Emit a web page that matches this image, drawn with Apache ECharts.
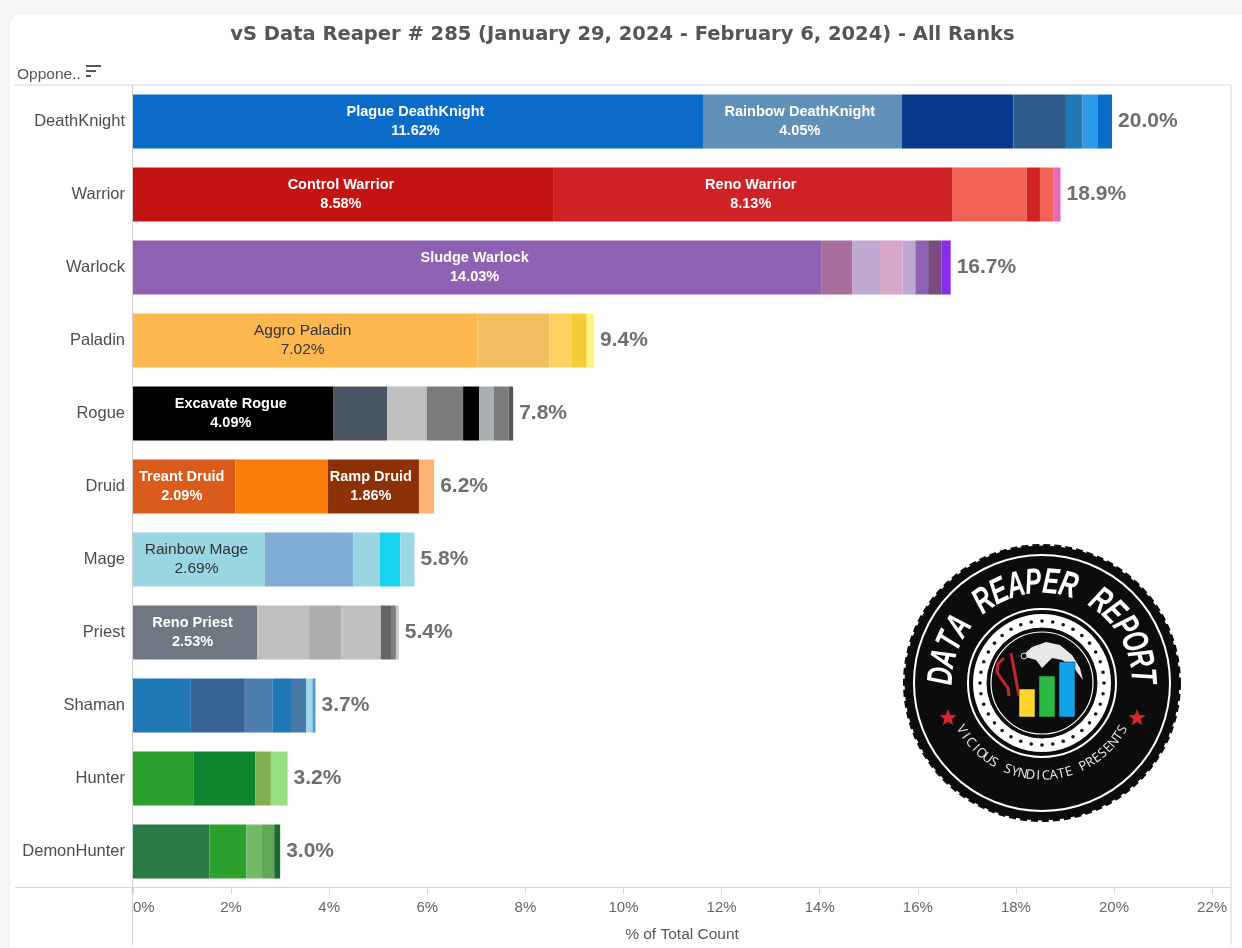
<!DOCTYPE html>
<html>
<head>
<meta charset="utf-8">
<title>vS Data Reaper # 285</title>
<script src="https://cdn.jsdelivr.net/npm/echarts@6/dist/echarts.min.js"></script>
<style>
html, body { margin: 0; padding: 0; background: #f7f7f7; overflow: hidden; }
#card { position: absolute; left: 10px; top: 14px; width: 1260px; height: 960px; background: #fff; border-radius: 12px; box-shadow: 0 0 8px rgba(0,0,0,0.04); }
#chart { position: absolute; left: 0; top: 0; width: 1242px; height: 948px; }
</style>
</head>
<body>
<div id="card"></div>
<div id="chart"></div>
<script>
var classes = ["DeathKnight", "Warrior", "Warlock", "Paladin", "Rogue", "Druid", "Mage", "Priest", "Shaman", "Hunter", "DemonHunter"];
var totalLabels = ["20.0%", "18.9%", "16.7%", "9.4%", "7.8%", "6.2%", "5.8%", "5.4%", "3.7%", "3.2%", "3.0%"];

var deathKnightShares = [11.62, 4.05, 2.28, 1.07, 0.34, 0.30, 0.30];
var warriorShares = [8.58, 8.13, 1.51, 0.27, 0.27, 0.15];
var warlockShares = [14.03, 0.63, 0.57, 0.46, 0.26, 0.26, 0.27, 0.19];
var paladinShares = [7.02, 1.47, 0.46, 0.30, 0.15];
var rogueShares = [4.09, 1.09, 0.81, 0.74, 0.33, 0.30, 0.30, 0.09];
var druidShares = [2.09, 1.88, 1.86, 0.31];
var mageShares = [2.69, 1.80, 0.54, 0.42, 0.29];
var priestShares = [2.53, 1.06, 0.66, 0.80, 0.21, 0.10, 0.06];
var shamanShares = [1.18, 1.10, 0.56, 0.40, 0.29, 0.13, 0.06];
var hunterShares = [1.23, 1.26, 0.32, 0.34];
var demonHunterShares = [1.56, 0.75, 0.32, 0.25, 0.12];
var shares = [deathKnightShares, warriorShares, warlockShares, paladinShares, rogueShares, druidShares, mageShares, priestShares, shamanShares, hunterShares, demonHunterShares];

var deathKnightColors = ["#0b6bc9", "#6090b8", "#07398c", "#2d5a88", "#1f77b4", "#2d9ae8", "#0a6ccb"];
var warriorColors = ["#c41313", "#d02226", "#f26355", "#d12226", "#f26355", "#e36ab8"];
var warlockColors = ["#8f61b3", "#a66e9b", "#bfa9d0", "#d8a6c8", "#bfa9d0", "#8f61b3", "#7a4b7e", "#8a2be8"];
var paladinColors = ["#fdb850", "#f2c060", "#fdd25e", "#f5ce35", "#fdf57d"];
var rogueColors = ["#000000", "#4a5563", "#bfbfbf", "#7b7b7b", "#000000", "#a9afb0", "#7b7b7b", "#555555"];
var druidColors = ["#db5b1c", "#fa7c0b", "#8c3005", "#fdb473"];
var mageColors = ["#9ad6e2", "#7fabd4", "#9ad6e2", "#17d5ec", "#9ad6e2"];
var priestColors = ["#6e7883", "#c0c0c0", "#adadad", "#c0c0c0", "#646464", "#7f7f7f", "#c8c8c8"];
var shamanColors = ["#1f77b4", "#396594", "#4c7fae", "#1f77b4", "#4878a8", "#9bd6e6", "#4e9ccc"];
var hunterColors = ["#2ca02c", "#10852f", "#82b04f", "#98df84"];
var demonHunterColors = ["#2a7a45", "#2ca02c", "#74b966", "#5fa858", "#1a6b2f"];
var colors = [deathKnightColors, warriorColors, warlockColors, paladinColors, rogueColors, druidColors, mageColors, priestColors, shamanColors, hunterColors, demonHunterColors];

// only the big decks got a name inside the bar
var deckNames = [
    ["Plague DeathKnight", "Rainbow DeathKnight"],
    ["Control Warrior", "Reno Warrior"],
    ["Sludge Warlock"],
    ["Aggro Paladin"],
    ["Excavate Rogue"],
    ["Treant Druid", "", "Ramp Druid"],
    ["Rainbow Mage"],
    ["Reno Priest"],
    [], [], []
];
var darkLabelClasses = ["Paladin", "Mage"];

var series = [];
for (var s = 0; s < 8; s++) {
    var rows = [];
    for (var c = 0; c < classes.length; c++) {
        var deckName = deckNames[c][s];
        var darkLabel = darkLabelClasses.indexOf(classes[c]) >= 0;
        rows.push({
            value: shares[c][s] === undefined ? 0 : shares[c][s],
            itemStyle: { color: colors[c][s] || "#fff" },
            label: {
                show: !!deckName,
                position: "inside",
                offset: [-2.5, 0],
                color: darkLabel ? "#333" : "#fff",
                fontFamily: "Liberation Sans",
                fontSize: darkLabel ? 15.5 : 14.5,
                fontWeight: darkLabel ? "normal" : "bold",
                lineHeight: 19,
                formatter: deckName ? deckName + "\n" + shares[c][s].toFixed(2) + "%" : ""
            }
        });
    }
    series.push({ type: "bar", stack: "share", barWidth: 54, data: rows, silent: true });
}

var ends = [];
for (var i = 0; i < classes.length; i++) {
    var sum = 0;
    for (var j = 0; j < shares[i].length; j++) {
        sum += shares[i][j];
    }
    ends.push([sum, classes[i], totalLabels[i]]);
}
series.push({
    type: "scatter",
    symbolSize: 0,
    silent: true,
    data: ends,
    label: {
        show: true,
        position: "right",
        distance: 6,
        color: "#4a4a4a",
        fontFamily: "Liberation Sans",
        fontSize: 21,
        fontWeight: "bold",
        formatter: function(p) { return p.data[2]; }
    }
});

// logo is only decoration, so it goes in as plain graphic elements
var logoX = 1042;
var logoY = 683;

function arcLetters(text, r, from, to, font, fill, bottom, squeeze) {
    var out = [];
    for (var k = 0; k < text.length; k++) {
        var deg = from + (to - from) * k / (text.length - 1);
        var rad = deg * Math.PI / 180;
        out.push({
            type: "text",
            x: logoX + r * Math.sin(rad),
            y: logoY - r * Math.cos(rad),
            rotation: bottom ? -(rad - Math.PI) : -rad,
            scaleX: squeeze,
            z: 12,
            style: { text: text[k], x: 0, y: 0, fill: fill, font: font, align: "center", verticalAlign: "middle" }
        });
    }
    return out;
}

function logoCircle(r, fill, stroke, width, dash) {
    return {
        type: "circle", z: 11,
        shape: { cx: logoX, cy: logoY, r: r },
        style: { fill: fill, stroke: stroke, lineWidth: width || 0, lineDash: dash }
    };
}

function logoRect(x, y, w, h, fill) {
    return { type: "rect", z: 13, shape: { x: x, y: y, width: w, height: h }, style: { fill: fill, stroke: "#111", lineWidth: 0.5 } };
}

function logoStar(x, y) {
    var pts = [];
    for (var n = 0; n < 10; n++) {
        var a = n * Math.PI / 5;
        var rr = n % 2 ? 3.8 : 9;
        pts.push([x + rr * Math.sin(a), y - rr * Math.cos(a)]);
    }
    return { type: "polygon", z: 13, shape: { points: pts }, style: { fill: "#d9262c" } };
}

var logo = [
    logoCircle(137.5, "#0c0c0c", "#0c0c0c", 3, [7, 4]),
    logoCircle(128, "none", "#fff", 2),
    logoCircle(74, "#0c0c0c", "#fff", 2),
    logoCircle(69, "#fff"),
    logoCircle(55, "#0c0c0c", "#0c0c0c", 1),
    logoCircle(51, "#0c0c0c", "#fff", 1.2),
    {
        type: "polygon", z: 12,
        shape: { points: [[1022, 656], [1032, 647], [1046, 642], [1060, 645], [1072, 655], [1080, 668], [1083, 680], [1074, 668], [1062, 660], [1052, 658], [1042, 668], [1036, 660]] },
        style: { fill: "#e8e8e8" }
    },
    { type: "circle", z: 13, shape: { cx: 1024, cy: 656, r: 3 }, style: { fill: "#111", stroke: "#ddd", lineWidth: 1 } },
    {
        type: "polyline", z: 12,
        shape: { points: [[1004, 658], [998, 664], [997, 672], [1002, 680], [1008, 688], [1009, 696]] },
        style: { fill: "none", stroke: "#c6262b", lineWidth: 3 }
    },
    { type: "line", z: 12, shape: { x1: 1011, y1: 653, x2: 1019, y2: 696 }, style: { stroke: "#c6262b", lineWidth: 3 } },
    logoRect(1019, 689, 16, 28, "#fdd52b"),
    logoRect(1039, 676, 16, 41, "#2bb944"),
    logoRect(1059, 662, 16, 55, "#12a0e6"),
    logoStar(948, 718),
    logoStar(1137, 718)
];
for (var d = 0; d < 36; d++) {
    var da = d * Math.PI / 18;
    logo.push({ type: "circle", z: 12, shape: { cx: logoX + 62 * Math.sin(da), cy: logoY - 62 * Math.cos(da), r: 1.8 }, style: { fill: "#111" } });
}
logo = logo.concat(arcLetters("DATA REAPER REPORT", 100, -86, 86, "italic bold 36px 'Liberation Sans'", "#fff", false, 0.68));
logo = logo.concat(arcLetters("VICIOUS SYNDICATE PRESENTS", 93, 240, 120, "13px 'Open Sans'", "#eee", true, 1));

var frame = [
    { type: "line", shape: { x1: 14, y1: 85, x2: 1231, y2: 85 }, style: { stroke: "#d6d6d6", lineWidth: 1 } },
    { type: "line", shape: { x1: 1231, y1: 85, x2: 1231, y2: 945 }, style: { stroke: "#d6d6d6", lineWidth: 1 } },
    { type: "line", shape: { x1: 15, y1: 887.5, x2: 1231, y2: 887.5 }, style: { stroke: "#d6d6d6", lineWidth: 1 } },
    { type: "line", shape: { x1: 132.5, y1: 85, x2: 132.5, y2: 945 }, style: { stroke: "#d0d0d0", lineWidth: 1 } },
    { type: "text", x: 17, y: 75, style: { text: "Oppone..", fill: "#555", font: "15.5px 'Liberation Sans'", verticalAlign: "middle" } },
    { type: "rect", shape: { x: 86, y: 65, width: 15, height: 2 }, style: { fill: "#555" } },
    { type: "rect", shape: { x: 86, y: 70, width: 10, height: 2 }, style: { fill: "#555" } },
    { type: "rect", shape: { x: 86, y: 75, width: 5, height: 2 }, style: { fill: "#555" } }
];

var chart = echarts.init(document.getElementById("chart"), null, { renderer: "canvas" });
chart.setOption({
    animation: false,
    backgroundColor: "transparent",
    title: {
        text: "vS Data Reaper # 285 (January 29, 2024 - February 6, 2024) - All Ranks",
        left: 617.5,
        top: 20,
        textAlign: "center",
        textStyle: { color: "#555", fontFamily: "DejaVu Sans", fontSize: 19.5, fontWeight: "bold" }
    },
    grid: { left: 133, top: 85, width: 1098, height: 803 },
    xAxis: {
        type: "value",
        min: 0,
        max: 22.385,
        interval: 2,
        name: "% of Total Count",
        nameLocation: "middle",
        nameGap: 39,
        nameTextStyle: { color: "#555", fontFamily: "Liberation Sans", fontSize: 15.5 },
        axisLine: { show: false },
        axisTick: { show: true, length: 6, lineStyle: { color: "#d6d6d6" } },
        splitLine: { show: false },
        axisLabel: {
            color: "#666",
            fontFamily: "Liberation Sans",
            fontSize: 15,
            margin: 12,
            alignMinLabel: "left",
            showMaxLabel: false,
            formatter: "{value}%"
        }
    },
    yAxis: {
        type: "category",
        inverse: true,
        data: classes,
        axisLine: { show: false },
        axisTick: { show: false },
        axisLabel: { color: "#4d4d4d", fontFamily: "Liberation Sans", fontSize: 16.5, margin: 8 }
    },
    graphic: frame.concat(logo),
    series: series
});
</script>
</body>
</html>
